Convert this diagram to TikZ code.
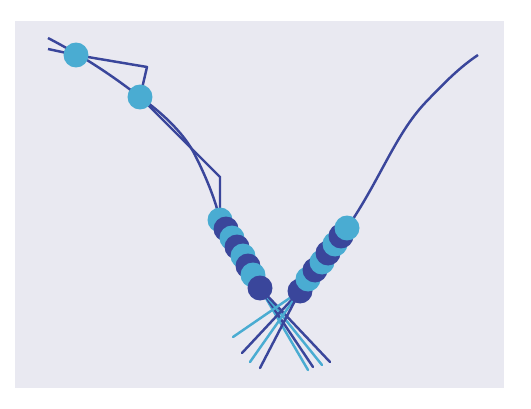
\documentclass[tikz,border=0pt]{standalone}
\usetikzlibrary{positioning,backgrounds}
\definecolor{panelgray}{HTML}{E9E9F1}
\definecolor{darkdot}{RGB}{58,70,155}
\definecolor{lightdot}{RGB}{74,172,210}
\tikzset{%
	dotdark/.style  = {circle, fill = darkdot, inner sep = 0pt,
		minimum size = 0.5cm}, % dark sample
	dotlight/.style = {circle, fill = lightdot, inner sep = 0pt,
		minimum size = 0.5cm}, % light sample
	traj/.style     = {draw = darkdot, line width = 1.4pt, line join = round}, % path
	raydark/.style  = {draw = darkdot, line width = 1.4pt, line cap = round}, % dark ray
	raylight/.style = {draw = lightdot, line width = 1.4pt, line cap = round} % light ray
}

\begin{document}
\begin{tikzpicture}[x=0.02cm,y=-0.02cm]
	\useasboundingbox (0,0) rectangle (531,409);

	% upper samples
	\node[dotlight] (p1) at (76,55) {};
	\node[dotlight] (p2) at (140,97) {};

	% left chain, top to bottom
	\node[dotlight] (l1) at (220,220) {};
	\node[dotdark]  (l2) at (226,229) {};
	\node[dotlight] (l3) at (232,238) {};
	\node[dotdark]  (l4) at (237,247) {};
	\node[dotlight] (l5) at (243,256) {};
	\node[dotdark]  (l6) at (248,266) {};
	\node[dotlight] (l7) at (253,275) {};
	\node[dotdark]  (l8) at (260,288) {};

	% right chain, bottom to top
	\node[dotdark]  (r1) at (300,291) {};
	\node[dotlight] (r2) at (308,279) {};
	\node[dotdark]  (r3) at (315,270) {};
	\node[dotlight] (r4) at (322,262) {};
	\node[dotdark]  (r5) at (328,253) {};
	\node[dotlight] (r6) at (335,244) {};
	\node[dotdark]  (r7) at (341,236) {};
	\node[dotlight] (r8) at (347,228) {};

	% free ends
	\coordinate (startA) at (48,38);
	\coordinate (startB) at (48,49);
	\coordinate (kinkA) at (147,67);
	\coordinate (kinkB) at (220,177);
	\coordinate (bendL) at (195,155);
	\coordinate (bendR) at (425,103);
	\coordinate (endR) at (478,55);
	\coordinate (ea1) at (308,370);
	\coordinate (ea2) at (313,367);
	\coordinate (ea3) at (322,365);
	\coordinate (ea4) at (330,362);
	\coordinate (eb1) at (233,337);
	\coordinate (eb2) at (242,353);
	\coordinate (eb3) at (250,362);
	\coordinate (eb4) at (260,368);

	\begin{pgfonlayer}{background}
		\fill[panelgray] (15,21) rectangle (504,388);

		\draw[traj] (startA) .. controls (90,60) and (115,78) .. (p2.center)
			.. controls (165,115) and (185,135) .. (bendL)
			.. controls (205,175) and (215,198) .. (l1.center);
		\draw[traj] (startB) -- (p1.center) -- (kinkA) -- (p2.center) -- (kinkB) -- (l1.center);
		\draw[traj] (r8.center) .. controls (380,180) and (395,135) .. (bendR)
			.. controls (445,82) and (460,67) .. (endR);

		\draw[raylight] (l8.center) -- (ea1);
		\draw[raydark]  (l8.center) -- (ea2);
		\draw[raylight] (l8.center) -- (ea3);
		\draw[raydark]  (l8.center) -- (ea4);
		\draw[raylight] (r1.center) -- (eb1);
		\draw[raydark]  (r1.center) -- (eb2);
		\draw[raylight] (r1.center) -- (eb3);
		\draw[raydark]  (r1.center) -- (eb4);
	\end{pgfonlayer}
\end{tikzpicture}
\end{document}
